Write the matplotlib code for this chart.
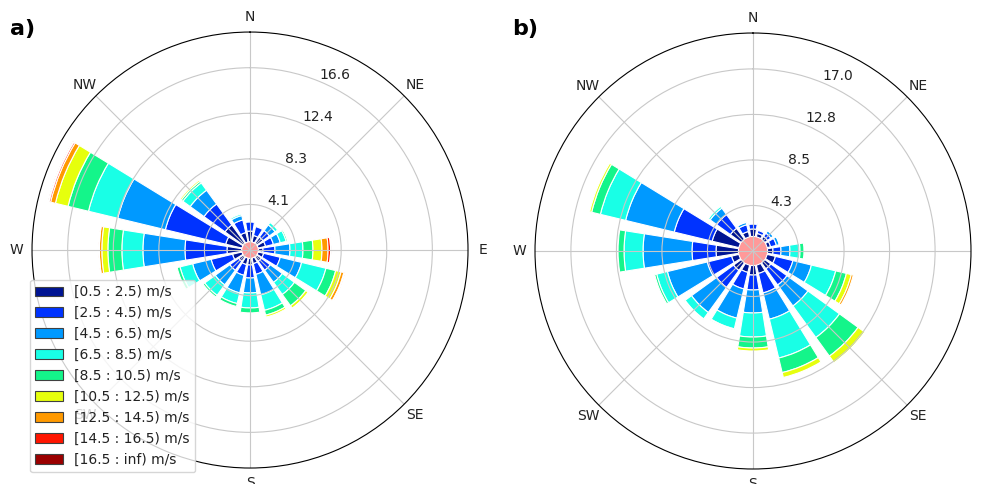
"""
Two wind roses (panels a and b): frequency (%) per direction sector, stacked
by wind-speed class, calm share drawn as the central circle.
"""
import numpy as np
import matplotlib.pyplot as plt
from matplotlib.patches import Patch

DIRS = ["N", "NNE", "NE", "ENE", "E", "ESE", "SE", "SSE",
        "S", "SSW", "SW", "WSW", "W", "WNW", "NW", "NNW"]
COMPASS = ["N", "NE", "E", "SE", "S", "SW", "W", "NW"]
SPEED_BINS = ["[0.5 : 2.5) m/s", "[2.5 : 4.5) m/s", "[4.5 : 6.5) m/s",
              "[6.5 : 8.5) m/s", "[8.5 : 10.5) m/s", "[10.5 : 12.5) m/s",
              "[12.5 : 14.5) m/s", "[14.5 : 16.5) m/s", "[16.5 : inf) m/s"]
COLORS = ["#001493", "#0033ff", "#0099ff", "#19ffe6", "#14f58a",
          "#e6ff0d", "#ff9900", "#ff1500", "#9b0000"]

# panel a: rows = speed class, columns = direction (N .. NNW)
freq_a = [
    [0.97, 0.61, 0.70, 0.70, 0.43, 0.52, 0.52, 0.52, 0.61, 0.61, 0.52, 0.88, 1.34, 1.52, 2.06, 0.88],
    [0.82, 0.82, 0.73, 0.73, 1.09, 1.55, 1.00, 1.00, 1.18, 1.00, 1.00, 2.00, 3.82, 5.64, 2.36, 1.18],
    [0.00, 0.00, 0.64, 0.64, 1.36, 2.00, 1.36, 1.91, 1.36, 1.64, 1.64, 1.73, 3.82, 4.45, 1.55, 0.41],
    [0.00, 0.00, 0.27, 0.55, 1.18, 2.27, 1.36, 1.45, 1.36, 1.00, 1.18, 1.18, 1.91, 2.73, 0.82, 0.14],
    [0.00, 0.00, 0.00, 0.14, 0.91, 0.91, 1.27, 0.45, 0.45, 0.27, 0.18, 0.27, 1.27, 1.91, 0.18, 0.00],
    [0.00, 0.00, 0.00, 0.05, 0.82, 0.50, 0.27, 0.18, 0.00, 0.00, 0.00, 0.00, 0.55, 1.18, 0.14, 0.00],
    [0.00, 0.00, 0.00, 0.00, 0.55, 0.27, 0.05, 0.00, 0.00, 0.00, 0.00, 0.00, 0.23, 0.45, 0.00, 0.00],
    [0.00, 0.00, 0.00, 0.00, 0.23, 0.09, 0.00, 0.00, 0.00, 0.00, 0.00, 0.00, 0.05, 0.14, 0.00, 0.00],
    [0.00, 0.00, 0.00, 0.00, 0.05, 0.00, 0.00, 0.00, 0.00, 0.00, 0.00, 0.00, 0.00, 0.09, 0.00, 0.00],
]
calm_a = 0.75
rticks_a = [4.14, 8.28, 12.42, 16.56]
rlabels_a = ["4.1", "8.3", "12.4", "16.6"]
rmax_a = 19.8

# panel b
freq_b = [
    [0.70, 0.33, 0.33, 0.33, 0.51, 0.80, 0.70, 0.80, 0.89, 0.70, 0.89, 0.70, 2.10, 2.57, 1.26, 0.51],
    [0.47, 0.28, 0.37, 0.56, 0.75, 1.68, 1.87, 1.87, 1.40, 1.59, 1.96, 2.34, 2.25, 3.65, 1.59, 0.65],
    [0.09, 0.00, 0.28, 0.28, 0.84, 1.78, 2.43, 2.53, 2.15, 2.81, 2.90, 3.84, 4.58, 4.68, 0.75, 0.23],
    [0.00, 0.00, 0.09, 0.09, 0.94, 2.34, 3.65, 3.74, 2.25, 1.03, 0.75, 1.03, 1.78, 2.43, 0.19, 0.09],
    [0.00, 0.00, 0.00, 0.00, 0.37, 1.03, 2.15, 1.40, 1.03, 0.09, 0.09, 0.19, 0.56, 0.84, 0.00, 0.00],
    [0.00, 0.00, 0.00, 0.00, 0.00, 0.47, 0.75, 0.47, 0.28, 0.00, 0.00, 0.00, 0.00, 0.19, 0.00, 0.00],
    [0.00, 0.00, 0.00, 0.00, 0.00, 0.19, 0.00, 0.00, 0.00, 0.00, 0.00, 0.00, 0.00, 0.00, 0.00, 0.00],
    [0.00] * 16,
    [0.00] * 16,
]
calm_b = 1.36
rticks_b = [4.26, 8.52, 12.78, 17.04]
rlabels_b = ["4.3", "8.5", "12.8", "17.0"]
rmax_b = 20.4


def rose(ax, freq, calm, rticks, rlabels, rmax):
    ax.set_theta_zero_location("N")
    ax.set_theta_direction(-1)
    theta = np.radians(np.arange(len(DIRS)) * 360 / len(DIRS))
    width = 2 * np.pi / len(DIRS) * 0.8

    # calm circle
    ang = np.linspace(0, 2 * np.pi, 200)
    ax.fill(ang, np.full_like(ang, calm), color="red", alpha=0.4, lw=0, zorder=0.9)

    bottom = np.full(len(DIRS), calm)
    for row, col in zip(freq, COLORS):
        row = np.asarray(row, dtype=float)
        m = row > 0
        ax.bar(theta[m], row[m], width=width, bottom=bottom[m], color=col,
               edgecolor="white", lw=0.8, zorder=1)
        bottom = bottom + row

    ax.set_thetagrids(np.arange(0, 360, 45), COMPASS, fontsize=10)
    ax.set_rgrids(rticks, rlabels, angle=22.5, fontsize=10)
    ax.tick_params(axis="x", pad=0.5, colors="#222222")
    ax.tick_params(axis="y", colors="#222222")
    ax.set_ylim(0, rmax)
    ax.grid(color="#c8c8c8", lw=0.8)
    ax.spines["polar"].set_color("black")


fig = plt.figure(figsize=(9.82, 4.84), dpi=100)
axa = fig.add_axes([0.0326, 0.033, 0.444, 0.9008], projection="polar")
axb = fig.add_axes([0.5448, 0.031, 0.444, 0.9008], projection="polar")

rose(axa, freq_a, calm_a, rticks_a, rlabels_a, rmax_a)
rose(axb, freq_b, calm_b, rticks_b, rlabels_b, rmax_b)

handles = [Patch(facecolor=c, edgecolor="#404040", lw=0.8, label=l)
           for c, l in zip(COLORS, SPEED_BINS)]
leg = axa.legend(handles=handles, loc="lower left", bbox_to_anchor=(-0.005, -0.01),
                 borderaxespad=0, fontsize=10, framealpha=0.8)
for t in leg.get_texts():
    t.set_color("#222222")

fig.text(0.01, 0.928, "a)", fontsize=16, fontweight="bold")
fig.text(0.522, 0.928, "b)", fontsize=16, fontweight="bold")

plt.savefig("out.png", dpi=100)
